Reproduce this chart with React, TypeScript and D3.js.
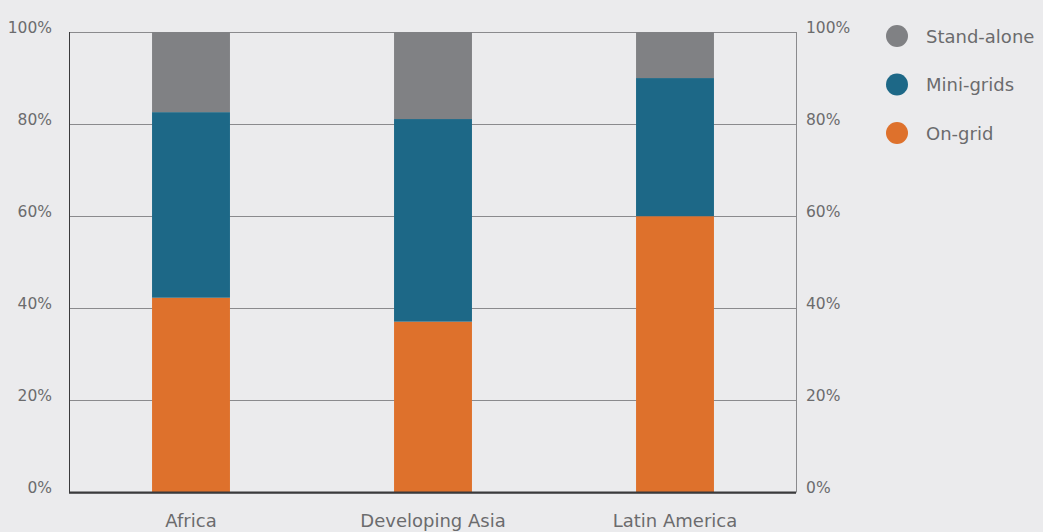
import React from "react";
import * as d3 from "d3";

const categories = ["Africa", "Developing Asia", "Latin America"];
const onGrid = [42.3, 37.1, 60.0];
const miniGrids = [40.3, 44.0, 30.0];
const standAlone = [17.4, 18.9, 10.0];
const seriesNames = ["On-grid", "Mini-grids", "Stand-alone"];
const seriesColors = ["#de712c", "#1d6887", "#808184"];
const yTicks = [0, 20, 40, 60, 80, 100];

const W = 1043;
const H = 532;
const left = 70;
const right = 796;
const top = 32;
const bottom = 492.5;
const FONT = "'DejaVu Sans', sans-serif";

export default function App() {
  const x = d3.scaleBand<string>().domain(categories).range([left, right]).paddingInner(0.678).paddingOuter(0.339);
  const y = d3.scaleLinear().domain([0, 100]).range([bottom, top]);
  const rows = categories.map((c, i) => ({ cat: c, "On-grid": onGrid[i], "Mini-grids": miniGrids[i], "Stand-alone": standAlone[i] }));
  const stacked = d3.stack<any>().keys(seriesNames)(rows);
  const legendOrder = [2, 1, 0];

  return (
    <svg width={W} height={H} style={{ position: "absolute", left: 0, top: 0, background: "#ebebed" }}>
      <rect x={0} y={0} width={W} height={H} fill="#ebebed" />
      {yTicks.map((t) => (
        <line key={"g" + t} x1={left} x2={right} y1={Math.round(y(t)) + 0.5} y2={Math.round(y(t)) + 0.5} stroke="#8a8a8d" strokeWidth={1} />
      ))}
      <line x1={right + 0.5} x2={right + 0.5} y1={top} y2={bottom} stroke="#8a8a8d" strokeWidth={1} />
      <line x1={left - 0.5} x2={left - 0.5} y1={top} y2={bottom + 1} stroke="#3a3a3c" strokeWidth={1} />
      {stacked.map((s, si) =>
        s.map((d, i) => (
          <rect
            key={si + "-" + i}
            x={x(categories[i])!}
            width={x.bandwidth()}
            y={y(d[1])}
            height={y(d[0]) - y(d[1])}
            fill={seriesColors[si]}
          />
        ))
      )}
      <line x1={left - 1} x2={right} y1={bottom} y2={bottom} stroke="#3a3a3c" strokeWidth={2} />
      {yTicks.map((t) => (
        <text key={"l" + t} x={52} y={y(t) + 0.5} textAnchor="end" fontFamily={FONT} fontSize={15.5} fill="#6b6b6d">
          {t}%
        </text>
      ))}
      {yTicks.map((t) => (
        <text key={"r" + t} x={806} y={y(t) + 0.5} textAnchor="start" fontFamily={FONT} fontSize={15.5} fill="#6b6b6d">
          {t}%
        </text>
      ))}
      {categories.map((c) => (
        <text key={c} x={x(c)! + x.bandwidth() / 2} y={527} textAnchor="middle" fontFamily={FONT} fontSize={18} fill="#6b6b6d">
          {c}
        </text>
      ))}
      {legendOrder.map((si, k) => (
        <g key={"lg" + si}>
          <circle cx={897} cy={36 + k * 48.5} r={11} fill={seriesColors[si]} />
          <text x={926} y={36 + k * 48.5 + 6.5} fontFamily={FONT} fontSize={18} fill="#6b6b6d">
            {seriesNames[si]}
          </text>
        </g>
      ))}
    </svg>
  );
}
